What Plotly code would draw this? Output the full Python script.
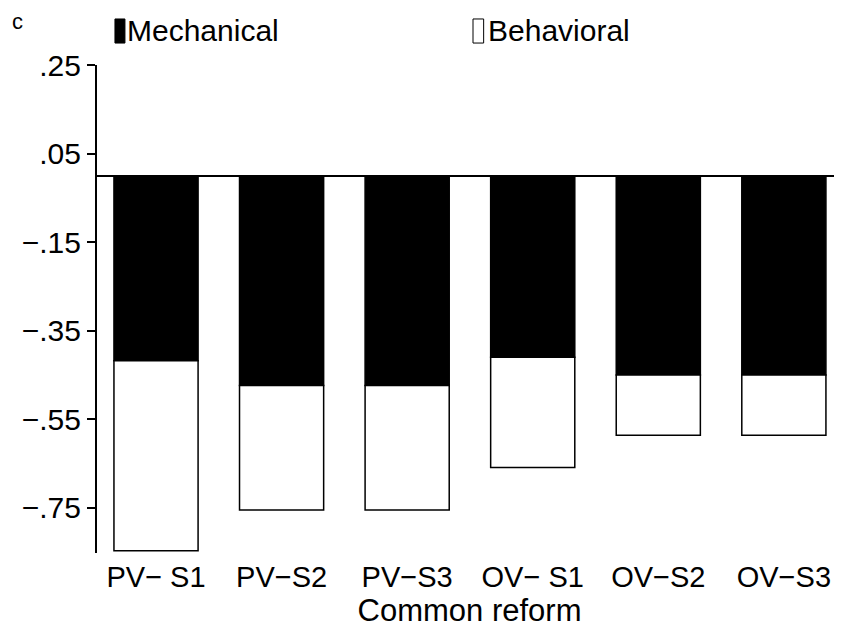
import plotly.graph_objects as go

categories = ["PV\u2212 S1", "PV\u2212S2", "PV\u2212S3", "OV\u2212 S1", "OV\u2212S2", "OV\u2212S3"]
mechanical = [-0.418, -0.474, -0.474, -0.410, -0.450, -0.450]
behavioral = [-0.429, -0.281, -0.281, -0.249, -0.136, -0.136]
tick_vals = [0.25, 0.05, -0.15, -0.35, -0.55, -0.75]
tick_text = [".25", ".05", "\u2212.15", "\u2212.35", "\u2212.55", "\u2212.75"]

FONT = "Liberation Sans, Arial, sans-serif"
x_idx = list(range(len(categories)))

fig = go.Figure()
fig.add_trace(go.Bar(x=x_idx, y=mechanical, name="Mechanical", width=0.67,
                     marker=dict(color="black", line=dict(color="black", width=1.5))))
fig.add_trace(go.Bar(x=x_idx, y=behavioral, name="Behavioral", width=0.67,
                     marker=dict(color="white", line=dict(color="black", width=1.5))))

fig.update_layout(
    barmode="relative",
    width=834, height=624,
    margin=dict(l=89, r=0, t=57, b=79),
    plot_bgcolor="white", paper_bgcolor="white",
    showlegend=False,
    font=dict(family=FONT, color="black", size=28),
)
fig.update_xaxes(
    range=[-0.47, 5.463], tickvals=x_idx, ticktext=categories,
    showline=False, showgrid=False, zeroline=False, ticks="", ticklabelstandoff=4,
    tickfont=dict(size=29),
    title=dict(text="Common reform", font=dict(size=31), standoff=6),
)
fig.update_yaxes(
    range=[-0.852, 0.25], tickvals=tick_vals, ticktext=tick_text,
    showline=True, linecolor="black", linewidth=2,
    ticks="outside", ticklen=8, tickwidth=2, tickcolor="black",
    showgrid=False, zeroline=True, zerolinecolor="black", zerolinewidth=2,
    tickfont=dict(size=30),
)

# legend drawn manually to mimic tall narrow swatches
fig.add_shape(type="rect", xref="paper", yref="paper", x0=0.0241, x1=0.0375, y0=1.045, y1=1.0943,
              fillcolor="black", line=dict(color="black", width=1))
fig.add_shape(type="rect", xref="paper", yref="paper", x0=0.5047, x1=0.519, y0=1.045, y1=1.0943,
              fillcolor="white", line=dict(color="black", width=1))
fig.add_annotation(xref="paper", yref="paper", x=0.0375, y=1.0697, text="Mechanical",
                   showarrow=False, xanchor="left", yanchor="middle", font=dict(size=30))
fig.add_annotation(xref="paper", yref="paper", x=0.5215, y=1.0697, text="Behavioral",
                   showarrow=False, xanchor="left", yanchor="middle", font=dict(size=30))
fig.add_annotation(xref="paper", yref="paper", x=-0.117, y=1.09, text="c",
                   showarrow=False, xanchor="left", yanchor="middle", font=dict(size=22))

fig.write_html("out.html")
